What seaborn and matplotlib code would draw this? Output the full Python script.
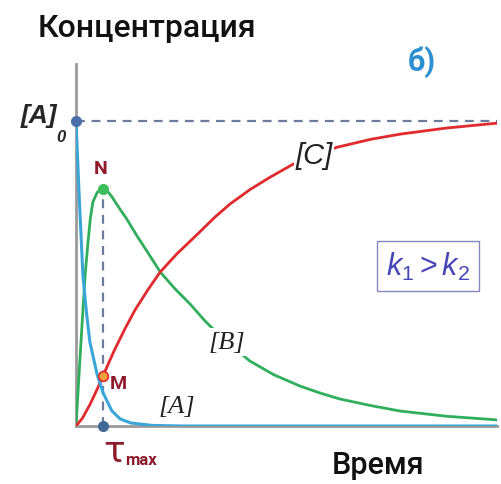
import matplotlib
matplotlib.use("Agg")
import matplotlib.pyplot as plt
import seaborn as sns

# Consecutive reaction A -> B -> C with k1 > k2: concentration vs. time
t_a = [0.0, 0.08, 0.166, 0.25, 0.33, 0.5, 0.64, 0.85, 1.05, 1.3, 1.8, 2.5, 10.0]
conc_a = [1.0, 0.74, 0.49, 0.37, 0.275, 0.17, 0.11, 0.05, 0.023, 0.01, 0.002, 0.0, 0.0]

t_b = [0.0, 0.024, 0.09, 0.166, 0.22, 0.285, 0.34, 0.40, 0.5, 0.56, 0.64, 0.72,
       0.85, 1.045, 1.2, 1.45, 1.7, 2.0, 2.35, 2.71, 3.06, 3.5, 4.13, 4.7, 5.32,
       5.8, 6.27, 7.0, 7.7, 8.8, 10.0]
conc_b = [0.0, 0.056, 0.21, 0.384, 0.50, 0.603, 0.68, 0.734, 0.765, 0.774, 0.777,
          0.775, 0.752, 0.711, 0.68, 0.623, 0.57, 0.505, 0.45, 0.40, 0.345, 0.285,
          0.213, 0.168, 0.131, 0.108, 0.0885, 0.067, 0.049, 0.032, 0.02]

t_c = [0.0, 0.15, 0.33, 0.5, 0.64, 0.9, 1.16, 1.40, 1.7, 2.0, 2.4, 2.87, 3.3, 3.66,
       4.13, 4.6, 5.15, 5.7, 6.2, 7.0, 7.7, 8.8, 10.0]
conc_c = [0.0, 0.025, 0.07, 0.12, 0.164, 0.245, 0.318, 0.38, 0.445, 0.505, 0.565,
          0.627, 0.685, 0.728, 0.775, 0.815, 0.858, 0.89, 0.914, 0.94, 0.957, 0.977,
          0.993]

a0 = 1.0          # initial concentration [A]0
t_max = 0.64      # time of the [B] maximum
b_max = 0.777     # [B] at its maximum (point N)
c_at_tmax = 0.164 # [C] at t_max (point M)

sns.set_style("white")
plt.rcParams["font.family"] = ["Roboto", "DejaVu Sans"]
plt.rcParams["mathtext.fontset"] = "custom"
plt.rcParams["mathtext.it"] = "Liberation Sans:italic"
plt.rcParams["mathtext.rm"] = "Liberation Sans"

fig = plt.figure(figsize=(5.01, 4.85), dpi=100)
ax = fig.add_axes([76 / 501, 1 - 427 / 485, (497 - 76) / 501, (427 - 65) / 485])
ax.set_xlim(0, 10)
ax.set_ylim(0, 1.187)

blue = "#3aa6d8"
green = "#2fae5c"
red = "#e02a2e"
dash_col = "#6b7c9c"
dark_red = "#8e1a2c"

# reference levels
ax.plot([0, 10], [a0, a0], ls=(0, (4, 3)), color=dash_col, lw=1.6, zorder=1)
ax.plot([t_max, t_max], [0, b_max], ls=(0, (4, 3)), color=dash_col, lw=1.6, zorder=1)

sns.lineplot(x=t_b, y=conc_b, ax=ax, color=green, lw=2.0, zorder=3, sort=False)
sns.lineplot(x=t_c, y=conc_c, ax=ax, color=red, lw=2.0, zorder=3, sort=False)
sns.lineplot(x=t_a, y=conc_a, ax=ax, color=blue, lw=2.2, zorder=4, sort=False)

# marked points
ax.plot([0], [a0], "o", ms=7, color="#4a6ea8", zorder=6, clip_on=False)
ax.plot([t_max], [b_max], "o", ms=7, color="#3cbf5a", zorder=6, clip_on=False)
ax.plot([t_max], [c_at_tmax], "o", ms=7, mfc="#f5a03a", mec=red, mew=1.2, zorder=6)
ax.plot([t_max], [0], "o", ms=7, color="#3f6a93", zorder=6, clip_on=False)

for side in ["top", "right"]:
    ax.spines[side].set_visible(False)
for side in ["left", "bottom"]:
    ax.spines[side].set_color("#9a9a9a")
    ax.spines[side].set_linewidth(2)
ax.set_xticks([])
ax.set_yticks([])

# curve labels
ax.text(2.4, 0.066, "[A]", fontsize=19, style="italic", family="Liberation Serif",
        color="#222222", ha="center", va="center")
ax.text(3.59, 0.275, "[B]", fontsize=19, style="italic", family="Liberation Serif",
        color="#222222", ha="center", va="center", zorder=5,
        bbox=dict(boxstyle="square,pad=0.1", fc="white", ec="none"))
ax.text(5.65, 0.888, "[C]", fontsize=21, style="italic", family="Liberation Sans",
        color="#222222", ha="center", va="center", zorder=5,
        bbox=dict(boxstyle="square,pad=0.05", fc="white", ec="none"))

ax.text(-0.45, 1.02, "[A]", fontsize=19, style="italic", weight="bold",
        family="Liberation Sans", ha="right", va="center", clip_on=False)
ax.text(-0.36, 0.95, "0", fontsize=12, style="italic", weight="bold",
        family="Liberation Sans", ha="center", va="center", clip_on=False)

ax.text(0.59, 0.846, "N", fontsize=14, weight="bold", color=dark_red,
        ha="center", va="center")
ax.text(1.0, 0.141, "M", fontsize=14, weight="bold", color=dark_red,
        ha="center", va="center")
ax.text(0.9, -0.082, "τ", fontsize=26, color=dark_red, ha="center", va="center",
        clip_on=False, family="DejaVu Sans")
ax.text(1.55, -0.11, "max", fontsize=12, weight="bold", color=dark_red,
        ha="center", va="center", clip_on=False)

ax.text(8.36, 0.525, r"$\mathit{k_1 > k_2}$", fontsize=22, color="#4646b8",
        ha="center", va="center",
        bbox=dict(boxstyle="square,pad=0.3", fc="white", ec="#8585c0", lw=1))

fig.text(38 / 501, 1 - 37 / 485, "Концентрация", fontsize=23, weight="medium",
         ha="left", va="baseline", color="#111111")
fig.text(332 / 501, 1 - 474 / 485, "Время", fontsize=22, weight="medium",
         ha="left", va="baseline", color="#111111")
fig.text(422 / 501, 1 - 62 / 485, "б)", fontsize=22, weight="bold",
         ha="center", va="center", color="#2b8fd2")

fig.savefig("out.png", dpi=100, facecolor="white")
